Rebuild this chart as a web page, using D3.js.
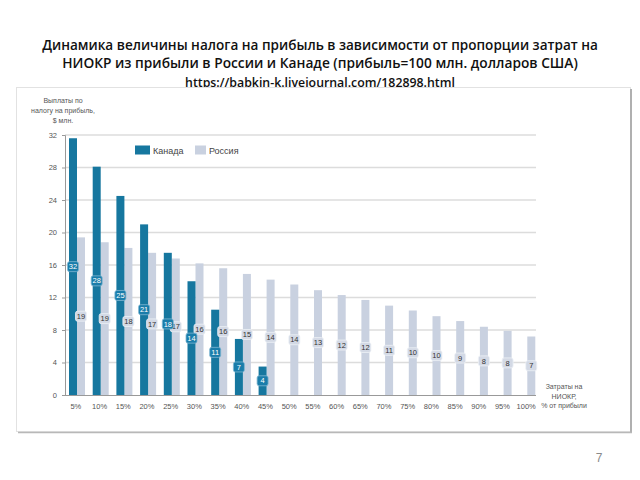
<!DOCTYPE html>
<html><head><meta charset="utf-8">
<script src="https://cdn.jsdelivr.net/npm/d3@7"></script>
<style>body{margin:0;background:#fff}svg{display:block}</style>
</head><body>
<svg id="c" width="640" height="480"></svg>
<script>
const titleLines = [
  "Динамика величины налога на прибыль в зависимости от пропорции затрат на",
  "НИОКР из прибыли в России и Канаде (прибыль=100 млн. долларов США)",
  "https://babkin-k.livejournal.com/182898.html"
];
const categories = ["5%","10%","15%","20%","25%","30%","35%","40%","45%","50%","55%","60%","65%","70%","75%","80%","85%","90%","95%","100%"];
const canada = [31.6, 28.1, 24.5, 21.0, 17.5, 14.0, 10.5, 6.9, 3.5];
const canadaLabels = ["32","28","25","21","18","14","11","7","4"];
const russia = [19.4, 18.8, 18.1, 17.5, 16.8, 16.2, 15.6, 14.9, 14.2, 13.6, 12.9, 12.3, 11.7, 11.0, 10.4, 9.7, 9.1, 8.4, 7.9, 7.2];
const russiaLabels = ["19","19","18","17","17","16","16","15","14","14","13","12","12","11","10","10","9","8","8","7"];
const yTicks = [0,4,8,12,16,20,24,28,32];
const seriesNames = ["Канада","Россия"];
const yTitle = ["Выплаты по","налогу на прибыль,","$ млн."];
const xTitle = ["Затраты на","НИОКР,","% от прибыли"];

const colCanada = "#16779f", colRussia = "#c9d1e0";
const svg = d3.select("#c");

// title
const titleWidths = [556, 516, 270];
const tg = svg.append("g");
titleLines.forEach((t,i)=>{
  const el = tg.append("text").attr("x",320).attr("y",[50,68,87][i])
    .attr("text-anchor","middle").attr("font-family","'Open Sans', 'Noto Sans', sans-serif")
    .attr("font-weight", 600).attr("font-size",14).attr("fill","#111").text(t);
  const w = el.node().getComputedTextLength();
  el.attr("font-size", 14*titleWidths[i]/w);
});

// frame
svg.append("rect").attr("x",16.5).attr("y",87.5).attr("width",614).attr("height",344)
  .attr("fill","#fff").attr("stroke","#e2e2e2");
svg.append("line").attr("x1",631).attr("x2",631).attr("y1",89).attr("y2",433).attr("stroke","#b0b0b0").attr("stroke-width",2);
svg.append("line").attr("x1",18).attr("x2",632).attr("y1",432.5).attr("y2",432.5).attr("stroke","#b8b8b8").attr("stroke-width",1.5);

const x = d3.scaleBand().domain(categories).range([64,538]);
const xs = d3.scaleBand().domain(["c","r"]).range([5,21]);
const y = d3.scaleLinear().domain([0,32]).range([395,135]);

const font = "'Liberation Sans', Arial, sans-serif";

// grid
svg.append("g").selectAll("line").data(yTicks.filter(d=>d>0)).join("line")
  .attr("x1",65).attr("x2",536).attr("y1",d=>y(d)).attr("y2",d=>y(d))
  .attr("stroke","#dcdcdc").attr("stroke-width",1.6);

// y axis
const ya = svg.append("g").attr("transform","translate(65,0)")
  .call(d3.axisLeft(y).tickValues(yTicks).tickSize(3).tickPadding(5));
ya.select(".domain").attr("stroke","#999");
ya.selectAll(".tick line").attr("stroke","#999");
ya.selectAll("text").attr("font-family",font).attr("font-size",7.5).attr("fill","#555");

// x axis
const xa = svg.append("g").attr("transform","translate(0,395)")
  .call(d3.axisBottom(x).tickSize(0).tickPadding(9));
xa.select(".domain").attr("stroke","#999").attr("d","M65,0.5H536");
xa.selectAll("text").attr("font-family",font).attr("font-size",7.5).attr("fill","#555");

// bars
svg.append("g").selectAll("rect").data(russia).join("rect")
  .attr("x",(d,i)=>x(categories[i])+xs("r")).attr("width",xs.bandwidth())
  .attr("y",d=>y(d)).attr("height",d=>y(0)-y(d)).attr("fill",colRussia);
svg.append("g").selectAll("rect").data(canada).join("rect")
  .attr("x",(d,i)=>x(categories[i])+xs("c")).attr("width",xs.bandwidth())
  .attr("y",d=>y(d)).attr("height",d=>y(0)-y(d)).attr("fill",colCanada);

// value labels
function labels(vals, labs, key, fill, txt, stroke){
  const g = svg.append("g").selectAll("g").data(vals).join("g")
    .attr("transform",(d,i)=>`translate(${x(categories[i])+xs(key)+xs.bandwidth()/2},${y(d/2)})`);
  g.append("rect").attr("x",-5.5).attr("y",-5).attr("width",11).attr("height",10).attr("rx",2)
    .attr("fill",fill).attr("stroke",stroke).attr("stroke-width",0.8);
  g.append("text").attr("text-anchor","middle").attr("dy","0.35em")
    .attr("font-family",font).attr("font-size",7.5).attr("fill",txt).text((d,i)=>labs[i]);
}
labels(russia, russiaLabels, "r", "#d3d9e5", "#333", "#eef1f6");
labels(canada, canadaLabels, "c", "#1a7daa", "#fff", "#7fb6d2");

// legend
const lg = svg.append("g");
lg.append("rect").attr("x",135).attr("y",145.5).attr("width",15).attr("height",9).attr("fill",colCanada);
lg.append("text").attr("x",153).attr("y",153.5).attr("font-family",font).attr("font-size",9).attr("fill","#444").text(seriesNames[0]);
lg.append("rect").attr("x",195).attr("y",145.5).attr("width",11).attr("height",9).attr("fill",colRussia);
lg.append("text").attr("x",209).attr("y",153.5).attr("font-family",font).attr("font-size",9).attr("fill","#444").text(seriesNames[1]);

// axis titles
yTitle.forEach((t,i)=>svg.append("text").attr("x",63).attr("y",[103,113,123][i]).attr("text-anchor","middle")
  .attr("font-family",font).attr("font-size",7).attr("fill","#555").text(t));
xTitle.forEach((t,i)=>svg.append("text").attr("x",564).attr("y",[389,398.5,408][i]).attr("text-anchor","middle")
  .attr("font-family",font).attr("font-size",7).attr("fill","#555").text(t));

// page number
svg.append("text").attr("x",599).attr("y",462).attr("text-anchor","middle")
  .attr("font-family","'Liberation Sans', Arial, sans-serif").attr("font-size",12).attr("fill","#8a8a8a").text("7");
</script>
</body></html>
